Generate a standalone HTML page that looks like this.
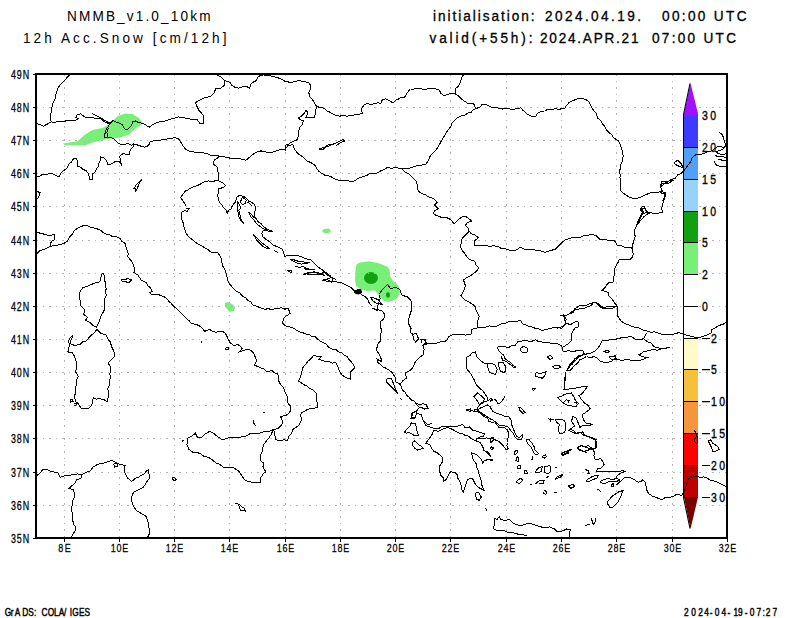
<!DOCTYPE html>
<html><head><meta charset="utf-8"><style>html,body{margin:0;padding:0;background:#fff;width:800px;height:618px;overflow:hidden}svg{display:block}</style></head>
<body><svg width="800" height="618" viewBox="0 0 800 618" font-family="'Liberation Sans', sans-serif"><path d="M63.0 143.5 L77.5 141.3 L85.0 134.4 L92.5 130.0 L102.5 128.1 L110.0 123.8 L117.5 116.2 L125.0 113.5 L132.5 114.0 L138.8 118.1 L143.1 123.5 L136.2 128.1 L128.8 134.4 L120.0 137.8 L110.0 138.8 L102.5 140.0 L92.5 142.5 L85.0 145.6 L76.2 145.0 L65.0 145.6Z" fill="#78f078"/>
<path d="M356.5 264.5 L360.0 262.5 L369.0 261.2 L378.0 263.0 L387.0 266.5 L389.5 269.5 L390.0 276.0 L393.0 281.0 L398.0 285.0 L400.0 290.0 L399.5 295.0 L396.0 299.0 L389.0 302.0 L384.0 301.0 L380.0 297.0 L378.0 294.0 L375.0 290.5 L367.0 291.0 L361.0 289.5 L356.0 286.0 L355.0 280.0 L355.5 270.0Z" fill="#78f078"/>
<ellipse cx="371" cy="278" rx="7" ry="6" fill="#10a010"/>
<ellipse cx="388" cy="295" rx="2" ry="2.8" fill="#10a010"/>
<path d="M322 231 L324 229 L329 228.5 L331 231 L329 233 L324 233Z" fill="#78f078"/>
<path d="M225 303 L228 302 L232 304 L235 307 L234 311 L230 312 L227 309 L225 306Z" fill="#78f078"/>
<path d="M64.5 74.0V538.0 M119.5 74.0V538.0 M174.5 74.0V538.0 M229.5 74.0V538.0 M285.5 74.0V538.0 M340.5 74.0V538.0 M395.5 74.0V538.0 M450.5 74.0V538.0 M506.5 74.0V538.0 M561.5 74.0V538.0 M616.5 74.0V538.0 M672.5 74.0V538.0 M36.0 505.5H727.0 M36.0 472.5H727.0 M36.0 438.5H727.0 M36.0 405.5H727.0 M36.0 372.5H727.0 M36.0 339.5H727.0 M36.0 306.5H727.0 M36.0 273.5H727.0 M36.0 240.5H727.0 M36.0 206.5H727.0 M36.0 173.5H727.0 M36.0 140.5H727.0 M36.0 107.5H727.0" stroke="#b4b4b4" stroke-width="1" stroke-dasharray="1.6 4.9" fill="none" shape-rendering="crispEdges"/>
<path d="M354.5 292 L357 289.5 L361 289 L362 292 L359 294.5 L355.5 294Z" fill="#000"/>
<rect x="684" y="116" width="14" height="31" fill="#3c3cff"/>
<rect x="684" y="147" width="14" height="32" fill="#50a0f5"/>
<rect x="684" y="179" width="14" height="32" fill="#96d2fa"/>
<rect x="684" y="211" width="14" height="31" fill="#10a010"/>
<rect x="684" y="242" width="14" height="32" fill="#78f078"/>
<rect x="684" y="274" width="14" height="32" fill="#ffffff"/>
<rect x="684" y="306" width="14" height="32" fill="#ffffff"/>
<rect x="684" y="338" width="14" height="31" fill="#fffac8"/>
<rect x="684" y="369" width="14" height="32" fill="#f5c03c"/>
<rect x="684" y="401" width="14" height="32" fill="#f5963c"/>
<rect x="684" y="433" width="14" height="32" fill="#ff0000"/>
<rect x="684" y="465" width="14" height="32" fill="#c00000"/>
<path d="M684 116 L684 113.5 L690.5 83 L698 113.5 L698 116Z" fill="#a010ff"/>
<path d="M684 497 L690.5 529 L698 497Z" fill="#780000"/>
<path d="M683 147.5H698 M683 179.5H698 M683 211.5H698 M683 242.5H698 M683 274.5H698 M683 306.5H698 M683 338.5H698 M683 369.5H698 M683 401.5H698 M683 433.5H698 M683 465.5H698 M683 497.5H698 M683.5 114V498" stroke="#000" stroke-width="1" fill="none" shape-rendering="crispEdges"/>
<path d="M683.6 114 L690 83.5 M683.6 498 L690 528.5" stroke="#000" stroke-width="1.1" fill="none"/>
<rect x="36.0" y="74.0" width="691.0" height="464.0" fill="none" stroke="#000" stroke-width="2"/>
<path d="M33.0 538.5H36.0 M33.0 505.5H36.0 M33.0 472.5H36.0 M33.0 438.5H36.0 M33.0 405.5H36.0 M33.0 372.5H36.0 M33.0 339.5H36.0 M33.0 306.5H36.0 M33.0 273.5H36.0 M33.0 240.5H36.0 M33.0 206.5H36.0 M33.0 173.5H36.0 M33.0 140.5H36.0 M33.0 107.5H36.0 M33.0 74.5H36.0 M64.5 538.0V541.5 M119.5 538.0V541.5 M174.5 538.0V541.5 M229.5 538.0V541.5 M285.5 538.0V541.5 M340.5 538.0V541.5 M395.5 538.0V541.5 M450.5 538.0V541.5 M506.5 538.0V541.5 M561.5 538.0V541.5 M616.5 538.0V541.5 M672.5 538.0V541.5 M727.5 538.0V541.5" stroke="#000" stroke-width="1" fill="none" shape-rendering="crispEdges"/>
<text transform="translate(11,542.75) scale(0.85,1.1306)" font-size="10.5" textLength="21.41" lengthAdjust="spacing" stroke="#000" stroke-width="0.25">35N</text>
<text transform="translate(11,509.75) scale(0.85,1.1306)" font-size="10.5" textLength="21.41" lengthAdjust="spacing" stroke="#000" stroke-width="0.25">36N</text>
<text transform="translate(11,476.75) scale(0.85,1.1306)" font-size="10.5" textLength="21.41" lengthAdjust="spacing" stroke="#000" stroke-width="0.25">37N</text>
<text transform="translate(11,442.75) scale(0.85,1.1306)" font-size="10.5" textLength="21.41" lengthAdjust="spacing" stroke="#000" stroke-width="0.25">38N</text>
<text transform="translate(11,409.75) scale(0.85,1.1306)" font-size="10.5" textLength="21.41" lengthAdjust="spacing" stroke="#000" stroke-width="0.25">39N</text>
<text transform="translate(11,376.75) scale(0.85,1.1306)" font-size="10.5" textLength="21.41" lengthAdjust="spacing" stroke="#000" stroke-width="0.25">40N</text>
<text transform="translate(11,343.75) scale(0.85,1.1306)" font-size="10.5" textLength="21.41" lengthAdjust="spacing" stroke="#000" stroke-width="0.25">41N</text>
<text transform="translate(11,310.75) scale(0.85,1.1306)" font-size="10.5" textLength="21.41" lengthAdjust="spacing" stroke="#000" stroke-width="0.25">42N</text>
<text transform="translate(11,277.75) scale(0.85,1.1306)" font-size="10.5" textLength="21.41" lengthAdjust="spacing" stroke="#000" stroke-width="0.25">43N</text>
<text transform="translate(11,244.75) scale(0.85,1.1306)" font-size="10.5" textLength="21.41" lengthAdjust="spacing" stroke="#000" stroke-width="0.25">44N</text>
<text transform="translate(11,210.75) scale(0.85,1.1306)" font-size="10.5" textLength="21.41" lengthAdjust="spacing" stroke="#000" stroke-width="0.25">45N</text>
<text transform="translate(11,177.75) scale(0.85,1.1306)" font-size="10.5" textLength="21.41" lengthAdjust="spacing" stroke="#000" stroke-width="0.25">46N</text>
<text transform="translate(11,144.75) scale(0.85,1.1306)" font-size="10.5" textLength="21.41" lengthAdjust="spacing" stroke="#000" stroke-width="0.25">47N</text>
<text transform="translate(11,111.75) scale(0.85,1.1306)" font-size="10.5" textLength="21.41" lengthAdjust="spacing" stroke="#000" stroke-width="0.25">48N</text>
<text transform="translate(11,78.75) scale(0.85,1.1306)" font-size="10.5" textLength="21.41" lengthAdjust="spacing" stroke="#000" stroke-width="0.25">49N</text>
<text transform="translate(58.3,552) scale(0.85,1.0641)" font-size="10.5" textLength="14.59" lengthAdjust="spacing" stroke="#000" stroke-width="0.25">8E</text>
<text transform="translate(110.8,552) scale(0.85,1.0641)" font-size="10.5" textLength="20.47" lengthAdjust="spacing" stroke="#000" stroke-width="0.25">10E</text>
<text transform="translate(165.8,552) scale(0.85,1.0641)" font-size="10.5" textLength="20.47" lengthAdjust="spacing" stroke="#000" stroke-width="0.25">12E</text>
<text transform="translate(220.8,552) scale(0.85,1.0641)" font-size="10.5" textLength="20.47" lengthAdjust="spacing" stroke="#000" stroke-width="0.25">14E</text>
<text transform="translate(276.8,552) scale(0.85,1.0641)" font-size="10.5" textLength="20.47" lengthAdjust="spacing" stroke="#000" stroke-width="0.25">16E</text>
<text transform="translate(331.8,552) scale(0.85,1.0641)" font-size="10.5" textLength="20.47" lengthAdjust="spacing" stroke="#000" stroke-width="0.25">18E</text>
<text transform="translate(386.8,552) scale(0.85,1.0641)" font-size="10.5" textLength="20.47" lengthAdjust="spacing" stroke="#000" stroke-width="0.25">20E</text>
<text transform="translate(441.8,552) scale(0.85,1.0641)" font-size="10.5" textLength="20.47" lengthAdjust="spacing" stroke="#000" stroke-width="0.25">22E</text>
<text transform="translate(497.8,552) scale(0.85,1.0641)" font-size="10.5" textLength="20.47" lengthAdjust="spacing" stroke="#000" stroke-width="0.25">24E</text>
<text transform="translate(552.8,552) scale(0.85,1.0641)" font-size="10.5" textLength="20.47" lengthAdjust="spacing" stroke="#000" stroke-width="0.25">26E</text>
<text transform="translate(607.8,552) scale(0.85,1.0641)" font-size="10.5" textLength="20.47" lengthAdjust="spacing" stroke="#000" stroke-width="0.25">28E</text>
<text transform="translate(663.8,552) scale(0.85,1.0641)" font-size="10.5" textLength="20.47" lengthAdjust="spacing" stroke="#000" stroke-width="0.25">30E</text>
<text transform="translate(718.8,552) scale(0.85,1.0641)" font-size="10.5" textLength="20.47" lengthAdjust="spacing" stroke="#000" stroke-width="0.25">32E</text>
<text transform="translate(702,120.1) scale(1.0,1.2237)" font-size="10.5" textLength="14.20" lengthAdjust="spacing" stroke="#000" stroke-width="0.3">30</text>
<text transform="translate(702,152.1) scale(1.0,1.2237)" font-size="10.5" textLength="14.20" lengthAdjust="spacing" stroke="#000" stroke-width="0.3">20</text>
<text transform="translate(702,184.1) scale(1.0,1.2237)" font-size="10.5" textLength="14.20" lengthAdjust="spacing" stroke="#000" stroke-width="0.3">15</text>
<text transform="translate(702,216.1) scale(1.0,1.2237)" font-size="10.5" textLength="14.20" lengthAdjust="spacing" stroke="#000" stroke-width="0.3">10</text>
<text transform="translate(702,247.1) scale(1.0,1.2237)" font-size="10.5" textLength="6.80" lengthAdjust="spacing" stroke="#000" stroke-width="0.3">5</text>
<text transform="translate(702,279.1) scale(1.0,1.2237)" font-size="10.5" textLength="6.80" lengthAdjust="spacing" stroke="#000" stroke-width="0.3">2</text>
<text transform="translate(702,311.1) scale(1.0,1.2237)" font-size="10.5" textLength="6.80" lengthAdjust="spacing" stroke="#000" stroke-width="0.3">0</text>
<text transform="translate(711,343.1) scale(1.0,1.2237)" font-size="10.5" textLength="6.80" lengthAdjust="spacing" stroke="#000" stroke-width="0.3">2</text>
<text transform="translate(711,374.3) scale(1.0,1.2237)" font-size="10.5" textLength="6.80" lengthAdjust="spacing" stroke="#000" stroke-width="0.3">5</text>
<text transform="translate(711,406.3) scale(1.0,1.2237)" font-size="10.5" textLength="14.20" lengthAdjust="spacing" stroke="#000" stroke-width="0.3">10</text>
<text transform="translate(711,438.3) scale(1.0,1.2237)" font-size="10.5" textLength="14.20" lengthAdjust="spacing" stroke="#000" stroke-width="0.3">15</text>
<text transform="translate(711,470.1) scale(1.0,1.2237)" font-size="10.5" textLength="14.20" lengthAdjust="spacing" stroke="#000" stroke-width="0.3">20</text>
<text transform="translate(711,502.1) scale(1.0,1.2237)" font-size="10.5" textLength="14.20" lengthAdjust="spacing" stroke="#000" stroke-width="0.3">30</text>
<path d="M702 338.5H710 M702 369.7H710 M702 401.7H710 M702 433.7H710 M702 465.5H710 M702 497.5H710" stroke="#000" stroke-width="1.2" fill="none"/>
<text transform="translate(67,21.2) scale(1,1.07)" font-size="13.6" textLength="143.5" lengthAdjust="spacing">NMMB_v1.0_10km</text>
<text transform="translate(23,43) scale(1,1.07)" font-size="13.6" textLength="203.5" lengthAdjust="spacing">12h Acc.Snow [cm/12h]</text>
<text transform="translate(433,20.9) scale(1,1.07)" font-size="13.6" textLength="101.5" lengthAdjust="spacing" stroke="#000" stroke-width="0.3">initialisation:</text>
<text transform="translate(545,20.9) scale(1,1.07)" font-size="13.6" textLength="96" lengthAdjust="spacing" stroke="#000" stroke-width="0.3">2024.04.19.</text>
<text transform="translate(662,20.9) scale(1,1.07)" font-size="13.6" textLength="84.5" lengthAdjust="spacing" stroke="#000" stroke-width="0.3">00:00 UTC</text>
<text transform="translate(429.5,42.7) scale(1,1.07)" font-size="13.6" textLength="103" lengthAdjust="spacing" stroke="#000" stroke-width="0.3">valid(+55h):</text>
<text transform="translate(540,42.7) scale(1,1.07)" font-size="13.6" textLength="98.5" lengthAdjust="spacing" stroke="#000" stroke-width="0.3">2024.APR.21</text>
<text transform="translate(652,42.7) scale(1,1.07)" font-size="13.6" textLength="84" lengthAdjust="spacing" stroke="#000" stroke-width="0.3">07:00 UTC</text>
<g transform="scale(0.8,1)"><text x="5.8 13.55 18.55 27.67 35.42 42.55 45.92 51.92 59.67 67.55 73.55 80.05 87.3 90.3 98.8 105.55" y="615.6" font-size="10.4" stroke="#000" stroke-width="0.45">GrADS: COLA/IGES</text></g>
<g transform="scale(0.8,1)"><text x="855.17 864.05 872.67 880.42 887.05 893.3 901.92 909.42 916.92 922.55 930.8 937.17 945.67 953.17 957.3 965.55" y="615.6" font-size="10.4" stroke="#000" stroke-width="0.45">2024-04-19-07:27</text></g>
<path d="M69.4,74.9 66.0,78.7 63.4,81.7 60.4,84.3 58.1,88.1 56.2,92.8 55.3,98.4 53.2,102.1 51.9,107.8 51.4,111.5 50.2,116.2 50.6,120.5 51.9,121.8 M36.9,123.7 39.8,124.6 43.5,126.1 47.2,124.2 51.0,121.8 54.8,122.4 58.5,121.2 62.2,121.8 66.0,120.9 69.7,120.0 73.5,120.5 77.2,119.8 78.2,118.6 75.8,117.1 77.6,114.3 81.0,113.8 82.9,115.6 86.2,117.5 90.4,117.5 96.0,118.2 100.7,119.0 104.4,121.8 108.2,123.7 M92.2,113.4 94.9,115.1 97.9,116.2 102.6,119.0 107.2,121.8 110.1,124.2 M108.2,123.7 112.9,120.5 116.6,122.4 119.4,123.1 122.2,124.6 124.1,128.4 126.0,130.2 128.8,128.4 131.6,125.6 132.6,121.8 135.4,120.9 138.2,122.4 141.0,123.1 143.8,123.7 146.6,125.6 149.4,127.1 152.2,125.0 156.0,123.1 159.8,121.8 165.4,120.9 171.0,119.0 174.8,118.1 178.5,116.8 181.3,117.5 185.9,118.1 M112.9,120.5 110.1,123.7 108.2,126.5 105.8,130.2 105.0,133.6 104.6,137.8 108.2,137.8 106.9,132.5 108.2,128.4 M108.2,137.8 111.7,137.9 114.8,139.6 118.5,143.4 122.2,144.9 127.9,143.4 131.6,145.2 133.5,143.8 137.2,144.9 141.0,146.2 144.8,147.1 148.5,145.6 150.4,141.5 156.0,140.6 159.8,140.2 163.5,139.6 169.1,138.7 174.8,137.8 178.5,138.7 180.4,141.5 183.2,146.2 185.9,149.5 M36.0,177.5 39.1,176.3 42.0,174.8 45.4,174.7 48.6,173.8 52.3,173.8 55.6,175.5 59.1,176.6 60.5,173.7 62.6,171.5 65.1,169.7 67.3,167.6 69.2,163.8 71.8,161.6 73.5,158.6 76.7,158.8 77.7,162.4 77.2,166.2 80.4,167.2 83.0,169.4 86.1,170.6 88.5,173.8 89.8,179.4 92.8,179.4 92.8,173.8 95.4,171.8 96.7,168.8 98.4,166.2 98.9,163.1 100.6,160.2 100.3,156.9 103.5,157.4 106.4,160.4 107.8,164.4 111.6,164.0 114.8,161.8 118.5,161.2 120.9,163.3 122.2,166.2 120.7,163.1 120.3,159.7 119.8,156.3 123.6,153.1 126.5,154.7 129.8,155.0 129.8,151.8 131.1,148.8 133.5,146.2 133.5,143.8 M133.5,189.4 136.3,184.6 139.1,181.8 141.9,179.0 139.1,183.7 138.0,186.5 137.2,189.4 M216.0,74.4 220.7,76.8 224.4,80.6 224.4,85.2 220.7,88.1 216.0,88.1 214.1,92.8 210.4,96.5 206.6,97.2 202.9,98.4 200.2,100.0 197.2,101.2 195.4,103.1 197.2,106.8 199.1,110.6 201.0,112.4 203.8,116.2 203.7,119.9 203.8,123.7 200.1,123.7 197.2,119.9 193.5,119.0 189.8,119.0 185.9,118.1 M224.4,80.6 230.1,82.4 231.9,85.2 234.8,87.1 238.5,88.1 242.2,86.8 246.0,86.2 249.8,88.1 250.4,84.9 252.6,82.4 256.3,80.6 257.7,77.3 260.5,75.2 M260.5,75.2 263.9,74.9 267.1,76.0 270.4,75.9 274.2,76.7 277.9,77.8 281.8,79.3 285.4,81.5 291.0,82.4 294.8,81.7 298.5,80.6 304.1,81.5 309.8,83.4 310.7,88.1 308.8,92.8 309.8,96.5 311.7,98.8 313.5,101.2 315.4,104.9 317.2,106.8 321.1,107.4 324.8,108.7 327.2,111.1 330.4,112.4 333.0,114.2 335.9,115.2 M317.2,106.8 315.4,110.6 315.4,113.9 314.4,117.1 310.2,117.2 306.0,117.5 307.9,112.4 306.0,110.6 304.1,113.4 301.3,116.2 298.5,118.1 300.4,119.9 303.2,120.9 302.2,124.6 299.4,127.4 298.9,130.7 298.5,134.0 297.6,139.6 292.9,141.5 288.2,144.3 285.4,145.2 285.4,150.9 M185.9,149.5 189.5,151.4 193.5,151.8 197.2,152.7 201.0,152.8 204.8,153.1 208.5,154.2 212.1,155.9 216.1,155.0 219.8,156.5 223.5,156.8 227.2,157.4 230.9,158.4 234.8,158.4 238.6,158.2 242.2,159.3 246.0,160.2 249.3,157.4 252.6,154.6 257.2,151.8 261.0,150.9 264.8,151.8 270.4,152.8 276.0,150.9 281.6,149.0 285.4,149.0 288.2,145.2 292.9,144.9 294.0,148.0 295.7,150.9 298.6,154.1 302.2,156.5 304.7,158.5 306.8,160.9 309.8,162.1 312.8,163.7 315.4,165.9 316.9,168.9 319.1,171.5 321.8,173.5 324.8,175.2 330.4,176.2 333.1,178.0 335.9,179.5 M219.8,156.5 217.0,158.4 214.1,160.2 213.2,164.0 216.9,166.8 217.9,171.5 218.8,176.2 218.8,180.9 222.6,182.8 225.4,185.6 223.5,187.4 218.3,189.0 M218.8,180.9 215.4,180.7 212.2,181.8 208.5,180.9 204.8,181.8 201.0,183.7 197.2,185.6 193.4,186.7 189.8,188.4 188.0,190.3 M319.5,149.0 324.8,147.1 328.1,144.9 332.3,144.8 335.8,143.0 332.0,144.3 328.5,146.2 325.1,147.2 322.9,149.9 319.5,149.4 M335.9,115.2 339.6,116.2 343.5,115.4 347.2,116.2 351.0,115.3 354.8,114.9 358.6,114.5 362.2,113.4 361.3,108.7 364.1,104.9 367.2,103.7 370.4,104.2 373.5,104.0 377.2,102.9 381.0,103.1 381.9,100.2 385.7,98.9 390.4,101.2 393.2,103.1 395.1,100.6 397.9,99.3 400.9,97.5 404.4,97.4 407.2,92.8 410.1,89.0 413.4,89.1 416.6,88.1 420.6,88.3 424.1,89.9 427.2,88.8 430.3,88.5 433.5,88.1 439.1,89.9 440.9,93.2 443.8,95.6 448.5,94.2 451.7,93.1 455.1,93.7 457.9,95.6 461.6,99.3 464.5,101.1 467.2,103.1 470.5,103.6 473.8,104.0 475.7,108.7 480.4,106.8 482.2,104.0 485.9,104.5 M455.1,93.7 456.0,88.1 458.5,86.2 459.8,83.4 461.6,77.8 463.5,74.6 M475.7,108.7 472.9,110.1 471.0,112.4 467.9,113.0 465.4,114.9 459.8,116.2 456.0,119.0 452.2,122.8 451.2,125.8 449.4,128.4 446.6,132.1 443.8,136.8 441.0,141.5 439.3,144.9 437.2,148.1 434.7,151.5 431.6,154.6 429.5,157.1 428.8,160.2 426.0,164.0 422.2,164.9 416.6,165.9 411.0,167.8 405.4,168.7 399.8,168.7 396.1,167.5 392.2,168.1 386.6,167.8 384.1,169.8 381.0,170.6 378.5,172.5 375.4,173.4 369.8,173.4 367.2,175.3 364.1,176.2 358.5,178.1 354.8,180.9 351.6,181.4 348.5,180.9 345.4,180.9 342.2,180.2 339.0,180.4 335.9,179.5 M401.6,168.7 405.4,172.4 408.7,173.5 411.0,176.2 413.9,178.9 416.6,181.8 417.4,185.7 417.6,189.6 M336.0,143.0 339.8,141.2 343.5,139.2 344.4,141.5 341.2,142.1 338.6,143.9 336.0,145.6 M485.9,104.5 488.8,105.9 491.6,107.4 497.2,107.8 502.9,109.1 508.5,108.1 511.3,110.0 516.0,108.7 520.7,107.8 522.9,110.3 525.4,112.4 528.0,114.6 531.0,116.2 535.7,116.2 537.9,113.0 541.3,111.1 544.8,111.0 547.9,109.2 551.7,109.5 555.4,108.7 558.5,109.2 561.7,108.9 564.8,108.1 566.9,105.0 569.4,102.1 574.1,100.2 578.8,98.0 582.1,98.5 585.4,99.3 588.3,101.1 590.1,104.0 591.7,107.4 593.8,110.6 596.5,113.9 597.6,118.1 600.6,120.3 602.2,123.7 604.6,126.2 606.0,129.3 609.8,133.1 612.2,135.0 613.5,137.8 618.2,140.6 619.9,143.7 621.0,147.1 622.9,152.8 623.1,156.6 622.6,160.4 621.0,164.0 620.7,167.9 619.1,171.5 620.2,174.5 620.0,177.7 620.1,180.9 621.0,186.5 620.2,189.9 M660.4,187.4 661.3,181.8 664.1,180.9 666.9,182.4 671.6,179.4 675.4,178.1 677.6,175.0 681.0,173.4 685.1,169.2 688.5,164.4 690.8,161.5 691.9,158.0 696.0,154.6 699.8,154.4 703.5,153.7 707.0,151.8 711.0,151.2 715.7,148.1 718.5,146.2 724.1,147.5 726.0,145.2 M674.4,162.5 677.6,160.2 681.0,163.6 683.2,167.8 680.1,166.8 675.4,164.4 674.4,162.5 M719.4,132.5 722.6,134.9 724.1,140.6 725.6,144.9 724.1,148.1 721.5,149.9 718.5,150.9 715.7,151.8 718.5,153.7 724.1,155.0 726.0,152.8 M714.8,155.6 718.5,156.5 722.3,156.7 726.0,157.4 M713.8,160.6 716.2,164.9 720.4,166.8 723.7,166.5 726.9,166.8 M718.5,159.3 724.1,160.6 726.9,161.2 M660.4,187.4 664.1,183.7 666.6,181.6 669.8,180.9 673.8,180.0 M36.0,190.6 40.1,192.8 38.2,197.9 36.0,199.0 M36.0,232.2 41.6,233.5 47.2,235.0 51.1,235.2 54.8,234.1 54.4,239.7 51.5,241.4 50.1,244.4 51.0,246.2 M36.0,254.7 39.8,250.9 43.5,249.5 47.2,248.1 51.0,246.2 56.6,245.3 60.4,244.3 64.1,243.4 67.9,240.6 69.5,236.9 72.6,234.1 74.3,230.7 77.2,228.4 80.0,227.1 82.7,225.9 85.7,225.2 90.4,227.1 96.0,228.4 100.7,230.3 103.1,232.7 106.3,234.1 109.9,234.8 112.9,236.9 116.9,236.9 120.4,238.8 122.1,241.7 125.1,243.4 125.9,246.7 126.9,250.0 128.1,253.2 127.9,256.6 129.7,259.0 131.6,261.2 133.5,265.0 134.6,268.7 133.9,272.5 138.2,275.3 141.0,280.0 143.8,281.5 146.6,282.8 147.8,285.8 150.4,287.5 152.2,291.2 149.4,292.8 151.3,294.1 154.6,294.8 157.9,294.1 161.0,295.8 164.4,296.9 167.1,298.9 169.1,301.6 171.4,303.6 173.3,305.9 M81.0,305.9 80.1,300.6 79.1,295.0 80.4,291.0 82.9,287.5 86.8,286.6 90.4,284.7 96.0,282.8 99.8,281.9 100.8,278.1 101.6,274.4 103.5,273.4 104.4,276.2 104.2,279.4 105.4,282.5 105.4,285.6 106.2,288.7 105.4,291.9 106.3,295.0 104.9,298.5 104.7,302.2 104.9,305.9 M121.3,279.6 124.7,279.7 127.9,278.5 131.6,280.0 128.8,282.8 125.6,281.7 122.2,281.9 121.3,279.6 M135.4,187.9 135.4,191.5 137.2,189.4 M185.9,190.6 183.2,193.8 180.4,197.5 183.2,201.2 185.9,205.9 M185.9,232.7 184.1,227.5 183.5,223.6 181.9,220.0 181.0,216.3 181.3,212.5 185.3,210.2 M218.3,189.0 218.1,192.8 217.9,196.6 219.4,202.2 221.7,204.8 223.5,207.8 226.2,210.1 227.2,213.4 228.4,210.5 231.0,208.8 232.2,206.7 M237.6,196.6 241.3,195.2 M317.4,266.7 320.1,268.3 322.6,270.2 324.8,272.5 327.3,274.7 329.8,276.9 333.2,277.9 335.9,279.8 M303.3,266.7 306.1,268.3 309.1,269.1 312.1,269.8 315.4,269.7 311.6,269.6 307.8,269.6 304.1,268.8 M303.2,274.4 306.5,273.2 310.0,272.5 313.5,272.5 317.4,272.9 320.9,274.6 324.8,275.3 321.7,274.3 318.5,274.3 315.4,274.8 312.3,274.7 309.3,274.3 306.3,273.9 303.2,274.4 M322.9,280.0 326.7,279.5 330.3,281.0 334.1,281.0 M287.2,270.6 291.9,271.0 291.0,272.5 287.2,270.6 M185.9,232.7 187.8,235.9 190.6,238.4 193.5,240.6 197.0,243.4 201.0,245.3 204.2,247.5 207.6,249.2 210.4,251.9 214.1,252.9 217.9,252.8 220.0,255.9 221.6,259.4 222.0,262.7 222.6,265.9 224.4,268.8 225.6,271.8 226.5,274.9 227.2,278.1 228.3,282.3 231.0,285.6 233.5,288.8 236.6,291.2 239.9,293.1 242.2,295.9 245.5,297.7 247.9,300.6 250.8,301.8 252.4,304.8 255.4,305.9 M185.5,208.8 188.8,208.8 186.9,211.6 185.3,210.2 M186.0,190.1 188.0,190.3 M417.6,189.6 419.5,192.1 422.2,193.8 425.4,194.5 427.9,196.6 433.5,198.4 437.2,202.2 434.4,205.0 438.2,208.8 434.4,210.6 433.5,213.4 436.0,215.4 439.1,216.2 442.1,217.8 445.3,217.8 448.5,218.1 451.5,220.7 454.1,223.8 456.5,221.5 458.8,219.1 463.5,216.2 466.6,217.0 469.1,219.1 471.9,220.9 467.2,222.8 465.4,225.6 468.1,227.9 469.1,231.2 471.4,233.9 474.8,235.0 478.5,237.8 474.8,240.6 474.8,245.3 480.4,245.9 485.9,245.3 M469.1,231.2 465.4,235.0 463.3,237.2 461.6,239.7 461.1,243.0 460.7,246.2 461.3,249.5 463.5,251.9 465.5,254.6 467.2,257.5 470.7,260.0 474.8,261.2 476.1,264.9 478.5,267.8 477.1,270.5 474.8,272.5 471.3,275.3 467.2,277.2 463.5,280.0 465.4,285.6 463.5,291.2 460.7,295.9 463.3,298.0 465.4,300.6 468.4,301.6 471.0,303.4 474.8,305.9 M334.1,281.0 337.2,282.1 340.5,282.4 343.5,283.8 347.3,285.5 351.0,287.5 354.8,291.2 358.5,292.2 362.2,295.0 365.5,296.8 367.9,299.7 369.3,303.3 372.1,305.9 M354.8,291.2 359.4,289.4 361.3,292.8 357.6,294.1 M379.1,294.1 381.7,290.6 384.8,287.5 387.6,284.7 390.4,288.4 396.0,287.5 399.8,289.4 401.6,295.0 407.2,296.9 411.0,300.6 411.9,305.9 M370.7,296.9 374.5,298.2 378.2,299.7 379.9,302.1 381.9,304.4 376.3,303.4 372.6,300.6 370.7,296.9 M485.9,245.3 489.6,246.4 493.5,245.8 497.2,246.2 500.8,248.2 504.8,248.5 510.4,250.4 516.0,250.0 520.7,247.2 524.4,249.1 528.7,249.3 532.9,249.6 536.6,250.3 540.4,250.9 545.1,252.2 549.8,250.9 555.4,249.1 558.2,246.3 561.0,243.4 564.8,240.2 569.4,238.4 573.6,237.1 577.9,237.8 581.0,236.9 584.0,235.6 587.2,235.4 591.5,234.4 595.7,235.4 599.4,239.1 602.7,239.7 606.0,239.1 608.8,241.0 614.4,240.6 617.2,245.3 621.2,245.6 624.8,247.2 628.5,247.6 632.2,248.1 M620.2,189.9 622.7,192.7 625.7,194.7 629.4,197.5 632.7,198.1 635.9,198.4 M635.9,227.5 634.1,230.3 634.9,233.5 635.1,236.9 634.1,240.0 633.1,243.1 632.2,246.2 632.2,250.1 633.2,253.8 632.5,256.9 630.4,259.4 626.6,259.3 622.9,259.9 619.1,259.4 618.1,262.4 616.3,265.0 614.8,268.6 614.4,272.5 614.1,275.6 613.7,278.7 613.5,281.9 608.8,282.8 606.5,284.8 605.1,287.5 602.2,290.3 607.9,292.2 609.0,295.9 611.6,298.8 613.6,301.1 615.2,303.7 617.2,306.0 M591.5,305.7 592.9,302.5 596.6,303.1 599.0,305.9 M635.9,198.4 639.8,197.5 642.6,196.1 645.4,194.7 651.0,192.8 654.8,192.6 658.5,192.2 662.2,190.9 665.1,193.8 664.1,199.4 662.2,205.0 661.9,208.8 662.2,212.5 658.5,213.1 654.8,213.4 651.0,212.9 647.2,212.5 644.4,207.8 641.6,208.8 643.5,212.5 640.7,217.2 639.3,220.0 637.9,222.8 635.5,228.1 M81.0,305.9 84.8,309.8 83.8,314.4 87.6,317.2 85.7,320.1 90.4,322.9 92.9,325.7 96.4,327.0 98.4,323.7 99.8,320.1 101.6,314.4 103.4,311.9 104.6,309.1 104.9,305.9 M96.9,329.4 94.5,332.6 91.3,335.1 88.9,337.8 86.6,340.7 82.9,341.8 80.1,344.4 74.4,345.4 69.8,343.5 71.6,338.8 72.6,336.0 70.2,337.9 68.8,340.7 69.2,344.5 68.9,348.3 67.9,351.9 72.6,352.9 74.1,355.6 75.4,358.5 76.9,364.1 77.0,368.0 75.4,371.6 78.2,376.3 76.3,381.0 76.4,384.8 75.4,388.5 75.8,392.4 74.4,396.0 75.4,401.6 78.2,403.5 81.0,408.2 84.7,408.8 88.5,408.8 90.8,406.5 92.2,403.5 93.2,397.9 96.4,399.1 99.8,398.8 103.7,399.6 107.2,401.6 108.0,398.5 108.2,395.4 108.2,392.2 107.8,388.4 109.6,384.8 109.1,381.0 110.7,377.7 109.8,374.0 111.0,370.7 110.4,366.6 108.2,363.2 110.1,360.9 112.3,358.8 114.4,356.6 114.5,353.3 113.4,350.2 111.9,347.2 110.1,341.6 107.6,338.7 106.3,335.1 100.7,333.2 96.9,329.4 M70.3,399.8 72.0,399.4 73.1,401.6 70.7,402.0 70.3,399.8 M74.4,403.1 76.3,403.9 75.8,405.8 74.2,405.0 M173.3,305.9 176.0,308.2 178.5,310.7 181.3,313.5 184.1,316.3 185.9,317.9 M185.9,317.9 189.0,320.6 191.6,323.8 195.5,324.2 199.1,325.7 202.2,328.2 204.8,331.3 209.4,329.4 212.5,331.3 216.0,332.2 221.6,331.3 224.6,332.4 226.3,335.1 228.1,338.9 230.1,342.6 233.8,345.8 237.6,344.4 240.0,346.2 242.2,348.2 239.4,351.9 242.2,351.0 246.4,349.6 250.7,350.1 252.8,352.2 254.4,354.8 255.4,357.7 256.9,360.4 254.4,365.1 257.7,366.5 261.0,367.9 264.3,369.0 266.6,371.6 272.2,370.7 274.6,373.0 277.9,373.5 278.3,377.4 278.8,381.2 280.7,384.8 283.2,387.1 284.4,390.4 285.8,393.4 287.2,396.4 287.2,399.8 288.0,403.1 290.2,405.8 291.0,409.1 289.7,412.3 287.2,414.8 284.0,415.8 280.7,416.6 282.6,421.9 M255.4,305.9 261.0,307.9 264.6,309.2 268.5,308.8 271.8,309.5 275.1,308.8 278.3,308.2 281.6,307.8 284.9,309.2 288.2,308.2 290.1,313.5 286.7,315.7 283.5,318.2 282.6,322.9 284.7,325.1 287.2,326.6 290.7,327.1 293.8,328.3 296.6,330.4 299.6,332.0 302.9,332.7 306.0,334.1 309.4,334.2 312.0,336.8 315.4,336.9 317.7,339.0 320.0,341.2 322.9,342.6 326.2,344.3 328.5,347.2 332.0,349.1 335.9,349.6 M335.9,362.7 332.1,363.1 328.6,361.1 324.8,361.3 319.1,359.4 321.0,356.6 317.2,356.2 313.5,355.7 310.9,358.7 307.9,361.3 305.9,364.1 303.4,366.5 302.2,369.8 301.4,373.6 300.5,377.5 298.5,381.0 301.3,382.9 304.1,384.8 307.2,386.2 309.8,388.5 313.5,390.2 316.3,393.2 317.0,396.5 316.3,399.8 317.7,403.4 317.2,407.2 314.2,408.5 311.1,408.9 307.9,409.1 304.8,411.3 301.3,412.9 300.6,415.9 301.4,418.9 300.8,421.9 M201.0,340.7 201.4,343.5 M225.0,348.2 228.8,347.6 228.4,349.5 225.4,349.5 225.0,348.2 M262.9,413.2 264.8,412.1 M253.0,420.4 254.4,421.4 M371.7,308.0 374.4,308.8 378.2,309.8 381.9,310.7 384.8,314.4 383.8,319.1 381.0,321.0 380.1,326.6 381.9,330.4 380.1,336.0 381.0,340.7 378.2,343.5 377.2,346.8 376.3,350.1 379.1,353.8 381.0,358.5 381.0,361.3 377.2,359.4 378.2,363.2 380.9,364.6 382.9,366.9 385.8,368.1 388.5,369.8 392.2,372.6 395.1,377.2 396.0,381.9 400.7,384.8 402.6,390.4 405.2,392.1 406.3,395.1 409.0,397.1 411.0,399.8 414.4,401.3 416.6,404.4 419.4,407.2 416.6,411.0 412.9,412.9 411.0,418.5 414.8,418.5 416.6,412.9 421.3,414.8 422.3,418.4 424.1,421.7 M400.7,383.8 402.6,381.0 406.3,378.2 405.4,372.6 410.1,370.7 412.0,368.4 413.8,366.0 414.7,362.9 416.6,360.4 419.4,357.6 423.2,354.8 424.1,349.1 423.2,345.4 426.0,342.6 424.1,339.8 421.3,339.8 422.2,343.5 M412.9,334.1 416.6,333.8 418.5,338.8 415.7,342.0 413.2,339.4 412.9,334.1 M420.4,339.8 425.1,339.4 426.9,344.4 422.2,345.4 M411.9,305.9 411.0,311.6 409.1,317.2 408.2,322.9 409.6,325.7 411.0,328.5 410.1,332.2 412.9,334.1 M424.1,343.5 429.8,343.5 434.1,343.9 438.2,342.6 441.4,341.3 444.8,341.6 447.1,339.7 448.5,336.9 451.3,335.4 454.1,334.1 459.8,334.1 465.4,335.1 471.0,334.1 471.9,329.4 476.6,328.1 479.7,327.7 482.9,328.0 485.9,326.9 M474.8,305.9 476.6,311.6 479.4,316.3 477.6,321.0 477.5,324.6 477.0,328.1 M386.6,379.1 391.3,378.2 393.2,382.9 394.6,386.6 396.0,390.4 397.9,393.2 396.0,392.2 394.4,389.7 392.2,387.6 389.4,384.8 386.6,381.9 386.6,379.1 M399.8,397.9 401.6,399.8 M416.6,403.5 419.7,404.8 422.9,403.8 426.0,404.4 427.9,408.2 424.1,409.1 421.3,407.2 418.5,408.2 M411.9,412.9 416.6,411.0 415.7,416.6 411.0,418.5 411.9,412.9 M335.9,349.6 338.4,351.8 341.6,352.9 344.2,355.1 347.2,356.6 348.9,359.3 351.2,361.5 352.9,364.1 354.8,367.9 351.0,371.6 350.8,375.4 350.1,379.1 345.4,377.2 341.9,375.1 339.8,371.6 337.9,366.9 335.9,362.7 M487.4,364.1 483.5,362.9 480.4,360.4 476.6,356.6 475.7,351.9 471.9,352.9 470.1,355.4 467.2,356.6 466.3,360.3 466.3,364.1 467.2,369.8 469.5,372.1 471.4,374.7 472.7,377.7 M485.9,326.9 489.7,325.9 493.5,326.6 497.5,325.9 501.0,323.8 504.9,323.6 508.5,321.9 514.1,321.0 517.4,321.2 520.7,320.6 522.6,323.8 526.0,324.8 529.1,326.6 532.5,327.1 535.7,328.5 539.1,329.0 542.2,330.4 546.0,329.4 549.8,328.5 553.5,327.6 557.2,328.1 562.9,326.6 565.7,322.9 564.6,319.6 563.8,316.3 568.5,314.4 572.2,311.6 575.8,309.8 579.8,308.8 583.7,308.8 587.2,306.9 591.5,305.7 M599.0,305.9 602.1,308.2 606.0,308.8 609.8,308.4 613.5,307.9 617.2,306.0 M565.7,322.9 570.4,324.8 573.9,322.4 577.9,321.0 578.8,326.6 575.5,327.7 573.2,330.4 571.3,335.1 571.3,340.7 568.7,343.3 565.7,345.4 562.9,347.2 562.9,351.0 M497.2,347.2 501.0,346.3 504.8,346.7 508.5,347.6 511.5,345.6 515.1,345.4 517.9,341.6 523.5,340.7 527.3,340.9 531.0,341.6 535.7,339.8 538.5,341.6 542.3,342.0 546.0,342.6 549.7,343.0 553.5,343.5 557.4,343.9 561.0,345.4 562.9,348.2 M520.7,348.2 523.5,346.3 527.2,348.2 527.2,351.9 523.5,352.9 520.7,351.0 520.7,348.2 M546.9,356.6 550.7,355.7 553.1,358.1 549.8,359.4 546.9,356.6 M562.9,351.0 566.0,351.3 569.2,350.6 572.2,351.9 575.6,351.0 579.0,350.2 582.6,350.6 584.4,353.8 581.2,355.4 577.9,356.6 576.7,359.5 574.1,361.3 572.5,364.3 569.4,366.0 566.6,370.7 568.5,366.9 570.1,364.3 572.2,362.2 575.1,358.5 579.8,355.1 M565.7,371.6 565.9,374.8 564.9,377.9 564.8,381.0 M580.7,355.7 584.0,354.8 587.2,353.8 591.2,352.9 594.8,351.0 598.5,347.2 600.6,344.1 602.2,340.7 606.1,340.6 609.8,339.8 613.6,340.0 617.2,338.8 621.0,337.9 624.8,337.5 628.5,336.9 632.2,336.9 635.9,339.8 M587.2,356.6 590.3,357.9 593.6,356.6 596.6,357.6 600.4,361.3 604.1,362.2 607.9,362.2 611.1,361.6 613.9,359.5 617.2,359.4 620.4,360.1 623.5,360.2 626.6,359.4 629.7,360.0 632.8,360.5 635.9,360.4 M603.2,351.4 607.9,350.6 609.8,351.9 606.0,352.5 603.2,351.4 M608.8,356.6 612.2,356.8 615.4,355.7 616.3,358.5 611.6,359.4 608.8,356.6 M617.2,306.0 618.0,309.1 617.2,312.2 617.2,315.4 619.1,318.2 621.0,321.0 624.5,323.5 628.5,324.8 632.0,326.6 635.9,327.4 M497.2,347.2 499.1,351.0 501.1,353.4 503.8,354.8 504.8,358.5 507.5,360.5 510.4,362.2 512.7,365.2 516.0,366.9 514.1,367.9 511.5,365.3 508.5,363.2 505.9,361.4 502.9,360.4 501.0,356.6 M486.8,364.1 491.6,363.2 495.4,365.1 497.2,369.8 495.4,374.4 489.8,372.6 487.9,367.9 487.4,364.1 M498.2,362.2 502.9,362.2 504.8,364.8 505.7,367.9 504.8,372.6 501.0,371.6 499.1,367.9 498.2,362.2 M535.7,372.6 540.4,373.5 546.0,371.6 544.9,375.4 542.2,378.2 538.5,377.2 535.7,376.3 535.7,372.6 M552.6,366.4 558.2,365.1 561.0,366.9 557.2,368.8 553.5,367.9 552.6,366.4 M549.8,418.5 554.6,420.2 M635.9,327.4 640.0,328.2 643.5,330.4 647.3,331.0 651.0,332.2 654.8,331.9 658.5,333.2 662.2,334.3 666.0,334.1 669.8,334.2 673.5,334.1 679.1,332.6 682.9,334.1 686.6,335.3 690.4,336.0 696.0,337.5 701.6,336.9 707.2,335.1 711.0,333.2 711.9,329.4 715.3,327.8 718.5,325.7 724.1,323.8 726.9,321.0 M635.9,339.8 639.7,339.6 643.5,338.8 644.9,336.0 646.3,333.2 M643.5,338.8 647.2,341.6 651.1,343.2 653.8,346.3 656.9,347.8 660.4,348.2 663.5,348.5 666.6,347.8 669.8,347.6 666.6,348.1 663.4,348.3 660.4,349.1 657.3,350.3 654.1,349.3 651.0,350.1 647.3,351.0 643.5,351.0 641.7,353.5 638.8,354.8 641.6,356.6 647.2,357.6 643.5,359.4 639.8,360.4 635.9,360.4 M36.0,476.0 39.8,473.6 42.6,469.8 47.2,469.8 51.9,471.7 57.6,472.6 60.4,477.3 66.0,475.4 69.8,475.4 73.5,474.5 77.7,473.9 81.9,474.5 85.7,472.6 90.4,470.8 93.2,467.0 97.9,464.2 103.5,463.2 109.1,461.4 111.9,460.4 115.7,462.3 119.4,464.2 125.1,465.5 124.1,468.9 125.1,473.6 127.9,478.2 131.6,481.6 135.4,478.2 138.4,477.3 141.0,475.4 144.4,473.8 146.6,470.8 148.5,469.8 149.0,474.0 149.4,478.2 146.6,482.0 144.9,484.9 142.9,487.6 140.1,489.1 137.2,490.4 133.5,492.3 131.6,497.0 131.7,500.8 132.6,504.5 134.5,508.1 137.2,511.1 141.9,513.9 146.6,516.7 147.3,520.0 148.5,523.2 148.7,526.6 149.4,529.8 149.3,533.8 147.6,537.3 M113.8,464.2 116.6,463.2 117.6,466.1 114.8,467.0 113.8,464.2 M81.9,474.5 81.0,478.2 76.3,480.1 74.4,483.9 70.7,486.7 68.8,488.6 73.5,489.5 74.4,494.2 74.2,497.7 72.6,500.8 72.7,503.9 71.5,507.0 71.6,510.1 72.5,513.8 72.6,517.6 72.9,520.9 73.5,524.2 75.5,526.6 75.8,529.8 72.6,534.5 71.6,537.3 M171.9,478.2 174.8,477.3 176.2,479.8 173.8,480.5 171.9,478.2 M182.2,441.1 184.1,440.4 M273.2,429.5 269.2,431.3 264.8,431.4 259.1,433.2 254.9,433.7 250.7,433.2 246.0,436.1 242.2,436.7 238.5,437.9 234.8,437.6 231.0,437.9 227.8,438.0 224.8,439.2 221.6,439.2 216.9,436.1 214.6,434.2 212.2,432.3 209.4,431.4 204.8,434.2 201.0,437.9 197.2,437.0 195.4,433.2 191.6,436.1 187.9,437.9 187.5,441.2 186.9,444.5 188.8,449.2 191.2,451.0 193.5,452.9 197.3,452.6 201.0,453.9 203.5,456.0 206.6,456.7 210.7,458.5 214.1,461.4 216.5,463.6 219.8,464.2 222.6,466.8 226.3,467.9 230.1,467.0 233.8,467.9 238.5,470.8 240.4,473.5 242.2,476.4 244.1,479.2 246.7,481.0 249.8,481.6 253.1,483.0 256.6,482.4 260.1,482.9 261.0,477.3 263.0,474.2 265.7,471.7 262.9,467.0 263.8,463.2 261.0,461.4 260.4,457.6 261.0,453.9 262.8,450.8 262.9,447.3 264.2,443.7 266.6,440.8 269.1,437.6 271.3,434.2 273.2,429.5 M273.2,429.5 277.9,428.6 281.6,424.8 282.6,421.9 M273.2,429.5 274.8,432.7 275.0,436.4 276.0,439.8 279.7,441.0 283.6,439.7 287.2,440.8 289.1,436.1 291.6,433.1 292.9,429.5 295.7,427.6 298.5,425.8 300.8,421.9 M234.8,503.0 237.6,503.6 239.4,506.4 240.4,510.1 245.6,511.1 244.1,508.2 241.3,506.4 238.5,503.6 M253.0,420.4 254.0,423.7 256.3,426.1 M424.1,421.8 426.0,425.8 431.6,427.6 435.1,428.5 438.6,428.5 M433.5,430.4 438.6,431.3 M433.5,430.4 432.1,434.4 429.8,437.9 426.9,441.7 426.0,443.6 429.8,444.5 431.6,448.2 433.9,451.2 437.2,452.9 439.6,454.8 441.9,456.7 442.9,461.4 440.1,465.1 439.1,469.8 441.0,475.4 443.3,477.8 443.8,481.1 446.6,479.2 448.5,475.4 450.4,471.7 455.1,472.6 457.4,475.0 457.9,478.2 460.7,482.9 461.2,486.2 461.6,489.5 463.5,492.3 464.3,489.0 465.4,485.8 467.2,480.1 M475.7,493.2 478.5,492.3 481.3,497.0 479.4,500.4 476.2,498.9 475.7,493.2 M404.4,432.3 407.2,428.6 410.1,425.8 411.0,422.9 415.7,423.9 416.6,429.5 418.5,435.1 414.8,436.1 411.0,433.2 408.2,432.3 406.3,433.2 404.4,432.3 M411.9,442.6 414.8,440.8 418.5,444.5 421.1,446.1 423.2,448.2 417.6,450.1 414.8,448.2 412.7,445.8 411.9,442.6 M424.1,421.7 427.9,424.8 432.6,422.9 M516.9,456.7 518.8,457.6 518.2,461.4 516.0,460.4 516.9,456.7 M532.9,456.3 532.3,459.5 530.6,458.6 M542.2,456.7 545.1,454.8 546.9,456.7 544.1,458.2 542.2,456.7 M517.9,466.1 520.7,465.5 520.1,468.5 517.5,468.1 517.9,466.1 M524.4,470.8 526.3,470.2 527.8,473.6 525.0,473.8 524.4,470.8 M534.8,472.2 538.5,467.9 542.2,466.6 541.3,471.7 537.6,472.6 534.8,472.2 M544.1,467.0 549.8,465.5 551.1,471.1 547.9,474.1 544.1,471.7 544.1,467.0 M555.4,467.0 557.2,467.9 M546.4,477.7 549.0,476.0 M555.0,478.6 559.7,475.4 563.2,474.1 560.4,477.3 555.0,479.2 M515.6,482.4 518.0,480.1 520.7,478.2 522.8,480.1 520.1,483.1 515.6,482.9 M529.7,483.9 532.1,485.0 M535.1,484.2 537.5,481.9 540.4,480.1 544.1,480.1 543.6,483.1 539.4,483.1 M543.8,489.9 546.9,491.8 546.0,494.4 543.2,492.9 M554.1,492.7 556.7,492.7 M568.5,486.7 572.2,484.4 574.5,486.7 571.3,488.6 568.5,486.7 M568.9,452.9 565.8,453.7 563.2,455.8 561.2,453.9 M595.1,517.6 595.2,521.4 593.2,524.8 592.6,521.5 591.0,518.6 M585.4,525.5 589.5,524.2 M494.4,518.6 497.2,519.5 499.1,516.7 501.0,519.5 504.8,520.4 509.4,519.5 513.2,523.2 517.9,525.1 521.7,525.3 525.4,524.2 529.1,523.4 532.9,524.2 538.5,526.1 542.2,527.2 546.0,527.1 549.8,527.0 554.4,528.9 557.2,531.7 562.9,530.8 566.6,528.9 570.4,529.8 569.1,533.2 569.4,536.8 M494.4,518.6 494.5,522.0 494.1,525.5 493.5,528.9 497.2,530.8 501.0,530.5 504.8,530.8 508.3,532.7 512.2,532.6 516.0,533.7 519.8,534.5 523.6,535.0 527.2,536.0 M681.9,495.5 683.2,492.5 684.8,489.5 686.6,483.9 688.1,479.9 690.4,476.4 692.2,477.3 696.0,476.4 699.8,477.3 703.6,477.0 707.2,478.2 710.8,480.3 714.8,481.1 718.7,482.6 722.2,484.8 726.9,486.7 M694.1,430.4 696.9,434.2 696.0,437.0 694.1,439.8 695.1,442.6 696.9,443.6 697.9,438.9 696.0,433.2 694.1,430.4 M708.2,440.8 711.0,439.8 712.2,442.7 714.8,444.5 717.4,446.5 719.4,449.2 716.3,451.0 712.9,452.0 711.0,446.4 709.6,443.6 708.2,440.8 M472.7,377.7 474.7,380.4 475.6,383.8 478.8,387.5 482.5,390.6 485.0,393.8 487.2,397.5 488.1,400.6 483.1,402.5 480.6,404.4 478.1,406.9 476.9,409.4 M473.8,396.9 477.5,393.1 481.2,395.6 484.4,398.8 483.1,401.9 479.4,404.4 477.5,401.2 475.6,398.8 473.8,396.9 M489.4,399.4 491.2,398.5 492.5,400.0 490.6,401.0 489.4,399.4 M494.4,398.8 496.2,400.6 497.8,403.1 499.8,403.1 502.5,400.2 504.4,397.5 504.8,396.0 M466.2,410.0 470.0,409.0 470.0,411.2 466.2,410.0 M474.4,409.4 477.5,409.0 477.8,411.0 474.8,411.0 474.4,409.4 M477.5,410.0 480.5,408.0 483.8,406.5 487.5,405.0 490.0,406.5 492.5,411.2 496.2,413.1 501.9,415.0 505.0,416.6 508.5,416.5 511.9,421.2 511.6,424.5 512.8,427.5 514.8,432.5 516.9,436.9 520.0,437.2 522.5,434.4 521.9,439.4 518.1,439.8 515.0,436.9 513.6,433.7 511.2,431.2 508.1,426.9 503.8,425.6 498.8,425.0 495.6,421.9 492.9,420.1 490.0,418.8 486.2,416.2 482.5,413.5 478.8,411.5 477.5,410.0 M470.0,410.6 475.0,411.2 480.0,412.5 483.8,416.2 487.5,418.1 488.8,421.2 491.8,422.4 495.0,421.9 496.9,425.0 498.8,427.2 503.8,427.2 507.5,430.0 508.8,433.8 508.1,437.5 507.5,442.5 506.9,445.7 508.1,448.8 506.2,450.0 503.1,445.6 501.0,443.4 498.8,441.2 495.0,439.8 490.0,438.1 486.2,438.0 482.5,438.8 477.5,438.8 M438.6,428.5 441.6,426.8 445.0,426.9 450.0,426.0 453.1,426.9 456.2,426.9 459.3,425.5 462.5,424.4 465.0,427.5 469.4,426.9 472.5,430.0 476.2,431.2 481.2,432.5 484.4,434.0 483.1,436.5 480.0,436.9 476.9,438.8 475.3,440.6 M438.6,431.3 443.8,428.5 447.5,427.5 452.5,429.4 457.5,432.5 462.5,433.8 465.4,435.5 468.8,436.2 471.1,438.4 473.8,440.0 477.5,441.2 480.0,442.5 481.2,444.0 482.5,447.5 485.0,451.2 487.5,453.1 490.8,456.9 M490.6,438.1 493.8,437.2 493.1,440.6 491.0,442.5 490.6,438.1 M491.2,446.9 493.8,447.5 492.5,449.4 490.6,448.8 491.2,446.9 M513.8,452.5 516.9,450.0 517.5,452.5 515.0,455.0 513.8,452.5 M526.2,440.0 528.8,439.4 532.5,443.8 534.1,446.7 535.0,450.0 538.8,453.8 536.2,455.0 533.7,453.0 532.5,450.0 530.7,446.3 527.5,443.8 526.2,440.0 M518.8,406.9 521.2,408.1 525.0,412.5 523.1,413.8 520.0,410.6 518.8,406.9 M532.5,387.8 535.0,388.8 533.8,390.6 532.2,389.4 532.5,387.8 M232.2,206.7 231.9,206.2 233.8,203.8 235.6,201.9 236.9,196.9 239.4,195.2 243.1,196.2 246.2,198.1 248.8,201.2 251.9,202.5 254.4,204.4 255.6,207.5 255.0,211.2 254.4,216.2 256.9,220.0 260.0,223.1 263.1,226.2 267.5,229.4 272.5,231.2 269.2,231.4 266.2,230.0 262.5,231.2 261.9,233.8 263.1,236.9 266.9,240.0 270.6,242.5 273.1,245.0 277.5,246.9 281.9,248.8 283.8,252.5 284.4,256.2 288.8,255.6 291.9,255.6 295.0,255.3 298.1,255.6 301.7,256.8 305.0,258.8 310.0,259.4 313.8,262.5 317.4,266.7 M237.5,201.2 239.4,204.4 240.6,208.1 238.8,210.0 240.0,215.0 240.6,218.8 244.0,223.5 241.9,221.9 239.4,218.5 238.5,214.4 237.5,209.4 237.8,205.6 237.5,201.2 M242.5,197.2 246.2,200.0 245.6,203.5 242.5,204.8 240.2,202.2 242.5,197.2 M248.8,211.9 251.2,214.4 253.4,216.9 256.2,218.8 258.1,221.9 261.2,223.8 264.4,227.5 267.5,230.2 263.8,229.0 260.0,226.5 257.2,224.3 255.0,221.5 253.0,219.0 250.6,216.9 248.8,211.9 M253.1,234.4 256.2,236.9 260.0,241.2 263.1,243.8 267.5,246.9 269.8,249.0 265.6,247.8 262.9,246.2 260.6,244.0 256.9,240.2 255.1,237.3 253.1,234.4 M273.8,250.2 277.8,252.5 M290.0,259.0 293.8,259.8 297.5,261.0 301.4,261.0 305.0,262.2 310.0,262.5 305.0,263.8 301.2,264.1 297.5,263.1 293.5,261.6 290.0,259.0 M295.0,266.2 299.1,267.3 303.3,266.7 M247.5,201.9 250.0,203.8 252.5,206.2 M565.8,375.0 565.3,378.8 564.8,382.5 564.9,385.9 564.0,389.2 567.1,389.7 570.0,388.5 573.9,389.0 577.5,387.4 580.7,387.1 583.9,386.2 587.2,386.7 585.0,390.0 582.4,393.3 579.0,395.7 581.2,399.0 585.0,403.5 588.2,405.5 590.2,408.8 586.5,411.8 582.0,414.8 583.5,420.0 585.8,423.0 588.8,423.4 591.8,424.5 588.0,426.0 582.8,425.2 579.8,427.5 578.2,423.0 576.0,417.8 572.7,416.7 571.5,421.5 574.8,425.7 570.0,429.3 573.5,430.7 576.0,433.5 579.8,432.0 583.5,435.0 588.0,436.8 592.1,437.7 595.8,439.5 596.5,443.2 596.2,447.0 593.2,450.0 589.2,448.4 585.0,447.0 582.1,445.9 579.0,446.2 577.5,448.5 582.8,451.2 586.5,452.7 M557.2,397.5 560.7,396.7 563.7,394.8 567.0,393.8 571.5,393.0 573.5,396.3 575.2,399.8 578.2,403.5 576.0,406.5 573.0,406.1 570.0,405.8 566.9,404.9 564.0,403.5 561.0,401.2 557.2,397.5 M563.2,402.8 566.2,399.8 569.2,400.5 568.5,403.5 M573.8,402.8 576.0,402.3 576.8,404.2 M554.6,420.2 557.8,419.4 561.0,419.2 564.8,420.8 565.5,426.0 565.6,429.6 564.0,432.8 559.5,433.5 558.0,429.0 559.5,424.5 556.5,422.2 555.8,420.0 M548.2,418.5 550.5,420.0 550.2,421.5 M561.6,453.2 564.7,451.5 568.5,451.5 571.5,449.2 M466.8,479.8 469.7,478.6 472.8,479.0 475.0,483.5 478.0,487.2 482.5,489.5 484.0,490.2 481.8,485.0 481.0,479.8 479.9,476.4 478.8,473.0 477.9,469.9 476.5,467.0 476.1,463.7 474.2,461.0 472.6,458.2 472.0,455.0 471.2,452.8 475.0,453.8 478.8,456.5 481.8,460.2 482.5,463.2 484.0,461.0 487.8,459.5 493.0,459.2 M475.3,440.6 479.5,442.2 482.5,446.0 484.0,450.5 487.8,452.0 490.0,455.0 490.8,456.9 M489.7,461.3 493.0,459.8 M485.8,508.2 487.0,510.8 M583.6,353.4 580.8,356.1 577.5,358.1 574.8,361.1 571.4,363.4 569.5,366.8 567.4,370.0 570.1,370.7 572.2,368.1 574.4,365.6 577.6,363.3 579.6,359.9 583.2,358.7 586.2,356.4 M560.0,315.8 563.5,314.9 566.1,319.2 565.2,324.5 561.8,328.0 560.0,328.9 M570.5,314.0 573.4,312.2 574.5,308.7 577.5,307.0 580.3,305.2 583.7,305.7 586.9,305.1 589.8,303.5 593.2,303.0 596.8,302.6 600.1,305.4 603.8,307.9 607.1,306.4 610.8,307.0 616.0,306.1 M635.5,228.1 637.5,222.5 640.0,217.5 642.5,214.4 645.0,212.8 648.8,213.1 646.2,210.0 644.4,206.5 641.9,206.9 640.4,209.8 642.5,211.9 641.2,215.0 639.0,219.0 637.5,224.4 640.0,221.2 643.8,216.9 647.8,213.8 M662.6,183.2 662.2,183.8 660.6,187.5 662.1,190.6 660.0,191.9 662.8,193.8 665.0,191.9 665.8,195.2 663.8,198.8 662.5,200.6 M662.6,183.2 667.5,184.0 671.2,181.5 673.8,180.0 M379.0,294.8 380.2,298.8 378.5,303.1 377.5,306.9 378.1,310.2 M354.4,291.9 357.5,290.0 360.6,289.8 361.5,291.9 358.8,293.8 356.2,293.1 354.4,291.9 M371.7,308.0 374.7,309.1 377.5,310.6 378.8,309.4 M567.5,429.8 572.0,432.0 574.8,433.6 578.0,433.5 582.5,431.7 584.8,435.0 590.0,437.2 592.8,439.0 596.0,439.5 595.4,443.7 596.3,447.8 592.2,449.2 594.5,452.2 593.9,456.1 595.2,459.8 600.5,458.7 602.8,461.2 604.2,464.2 601.2,468.0 597.5,468.8 596.0,471.8 599.0,471.0 602.0,471.1 605.0,471.8 608.0,471.5 611.0,471.6 614.0,471.0 617.0,471.8 620.0,471.2 623.0,470.7 625.2,471.8 621.5,472.5 618.5,474.8 616.2,477.0 618.5,479.2 620.0,481.5 617.8,483.8 615.5,485.2 618.5,483.0 621.7,480.6 624.5,477.8 629.0,477.0 633.5,479.2 638.0,482.2 641.0,481.5 642.5,480.0 645.5,482.2 646.2,486.8 646.9,490.3 648.5,493.5 653.0,496.5 656.0,497.4 659.0,498.6 662.0,499.5 665.5,497.5 669.5,497.2 672.7,496.7 675.5,495.0 678.7,494.7 681.9,495.5 M577.2,447.8 581.0,445.5 584.7,446.5 588.5,445.8 592.2,448.5 588.5,450.0 584.0,451.5 579.5,450.0 577.2,447.8 M561.2,453.9 566.0,451.5 571.2,449.2 567.5,452.2 564.7,453.5 562.2,455.2 M586.2,480.8 588.6,478.6 591.5,477.0 594.7,475.5 598.2,475.5 597.5,477.8 592.2,480.0 587.8,481.8 586.2,480.8 M599.8,481.5 605.0,479.2 608.0,478.8 611.0,479.2 614.0,479.1 617.0,478.5 620.0,480.0 616.2,481.5 612.9,481.1 609.5,481.5 605.9,483.0 602.0,483.0 599.8,481.5 M611.0,484.5 613.2,483.8 613.2,486.8 611.0,486.0 611.0,484.5 M585.5,469.5 588.5,471.0 589.2,473.2 587.0,473.2 M568.2,486.0 572.0,484.5 575.0,485.2 571.2,488.2 568.2,486.0 M597.5,489.0 601.2,492.0 M609.5,507.0 607.9,504.2 608.0,501.0 610.3,498.4 612.5,495.8 615.6,494.0 618.5,492.0 623.0,490.5 621.7,494.3 620.0,498.0 618.6,501.3 616.2,504.0 612.5,507.8 609.5,507.0 M321.9,272.8 326.9,272.8 330.6,276.2 333.1,279.8 331.9,282.2 326.2,281.2 323.1,280.2 327.5,279.0 330.0,278.1 M303.8,273.8 306.9,273.4 310.0,272.8 313.8,271.8 317.5,272.8 320.7,273.2 323.8,274.4" stroke="#000" stroke-width="1" fill="none" shape-rendering="crispEdges"/></svg></body></html>
